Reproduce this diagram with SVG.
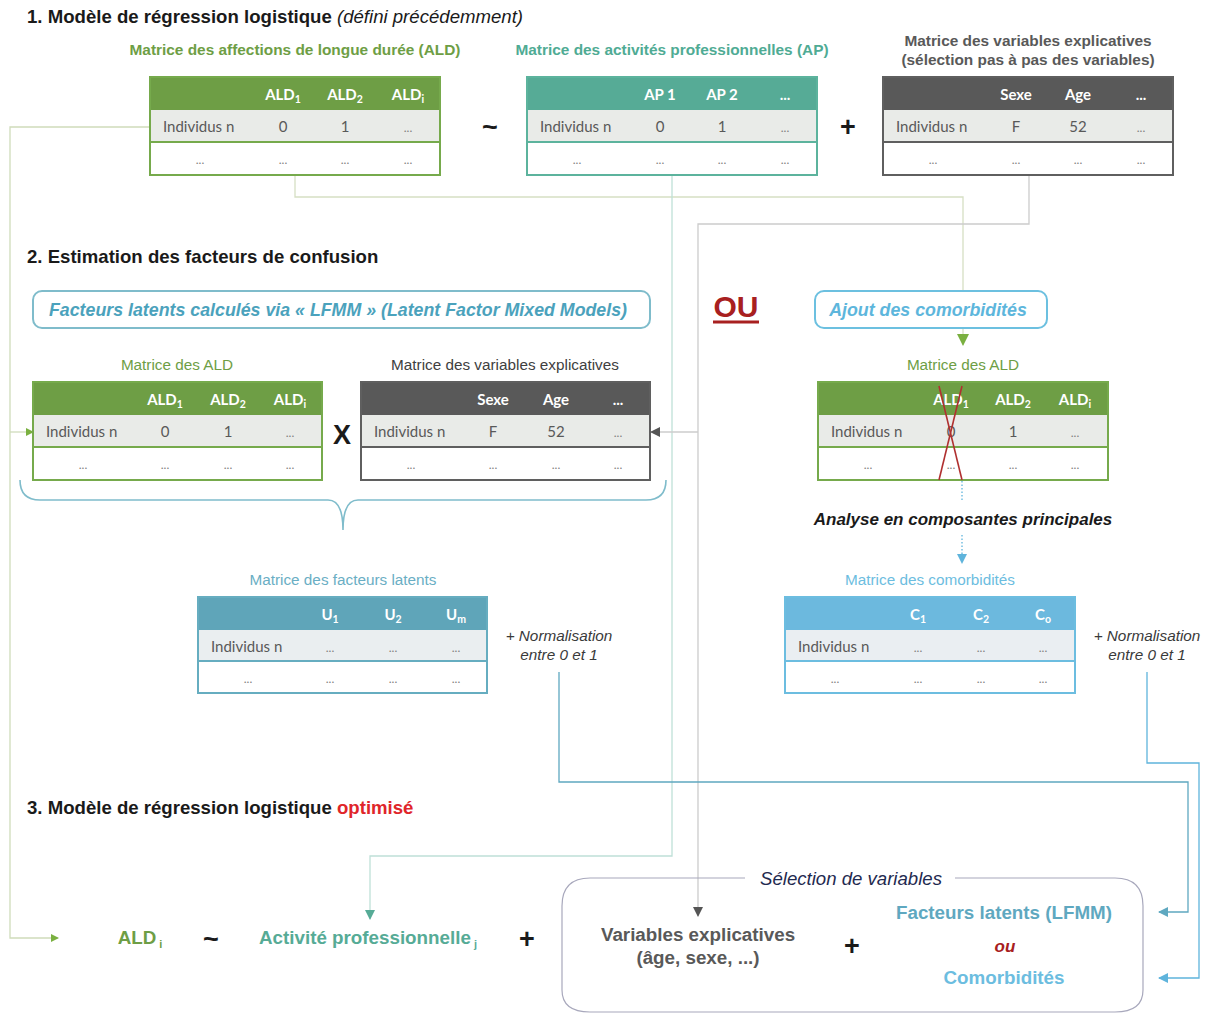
<svg xmlns="http://www.w3.org/2000/svg" width="1211" height="1014" viewBox="0 0 1211 1014">
<style>
.sec{font-family:"Liberation Sans",Arial,sans-serif;font-weight:bold;font-size:18.6px;fill:#1a1a1a}
.ttl{font-family:"Liberation Sans",Arial,sans-serif;font-weight:bold;font-size:15.4px;text-anchor:middle}
.lbl{font-family:"Liberation Sans",Arial,sans-serif;font-size:15.3px;text-anchor:middle}
.th{font-family:Lato,"Open Sans",sans-serif;font-weight:bold;font-size:15px;fill:#fff;text-anchor:middle}
.td{font-family:Lato,"Open Sans",sans-serif;font-size:15px;fill:#595959;text-anchor:middle}
.tl{font-family:Lato,"Open Sans",sans-serif;font-size:15px;fill:#595959}
.dots{font-family:Lato,"Open Sans",sans-serif;font-size:12px;fill:#7f7f7f;text-anchor:middle}
.sub{font-size:10.5px}
.r1{fill:#e9ebe8}
.op{font-family:"Liberation Sans",Arial,sans-serif;font-weight:bold;font-size:27px;fill:#1a1a1a;text-anchor:middle}
.norm{font-family:"Liberation Sans",Arial,sans-serif;font-style:italic;font-size:15.3px;fill:#3a3a3a;text-anchor:middle}
.big{font-family:"Liberation Sans",Arial,sans-serif;font-weight:bold;font-size:18.8px;text-anchor:middle}
.conn{fill:none;stroke-width:1.3}
</style>
<defs>
<marker id="aG" markerWidth="8" markerHeight="8" refX="7" refY="4" orient="auto" markerUnits="userSpaceOnUse"><path d="M0,0 L8,4 L0,8 Z" fill="#7ab040"/></marker>
<marker id="aT" markerWidth="10" markerHeight="10" refX="9" refY="5" orient="auto" markerUnits="userSpaceOnUse"><path d="M0,0 L10,5 L0,10 Z" fill="#56ab96"/></marker>
<marker id="aD" markerWidth="10" markerHeight="10" refX="9" refY="5" orient="auto" markerUnits="userSpaceOnUse"><path d="M0,0 L10,5 L0,10 Z" fill="#555"/></marker>
<marker id="aB" markerWidth="10" markerHeight="10" refX="9" refY="5" orient="auto" markerUnits="userSpaceOnUse"><path d="M0,0 L10,5 L0,10 Z" fill="#5fa8c0"/></marker>
<marker id="aL" markerWidth="10" markerHeight="10" refX="9" refY="5" orient="auto" markerUnits="userSpaceOnUse"><path d="M0,0 L10,5 L0,10 Z" fill="#5fb4dc"/></marker>
<marker id="aGb" markerWidth="12" markerHeight="12" refX="11" refY="6" orient="auto" markerUnits="userSpaceOnUse"><path d="M0,0 L12,6 L0,12 Z" fill="#7ab040"/></marker>
</defs>
<rect width="1211" height="1014" fill="#fff"/>

<!-- connectors -->
<g id="connectors">
<path class="conn" d="M150,127 H10 V938 H58" stroke="#cfdcbb" marker-end="url(#aG)"/>
<path class="conn" d="M10,432 H33" stroke="#cfdcbb" marker-end="url(#aG)"/>
<path class="conn" d="M295,175 V197 H963 V345" stroke="#d6dfc4" marker-end="url(#aGb)"/>
<path class="conn" d="M672,175 V856 H370 V919" stroke="#bfe0d8" marker-end="url(#aT)"/>
<path class="conn" d="M1029,175 V224 H698 V916" stroke="#cccccc" marker-end="url(#aD)"/>
<path class="conn" d="M698,432 H651" stroke="#cccccc" marker-end="url(#aD)"/>
<path class="conn" d="M962,481 V500" stroke="#5fb4dc" stroke-dasharray="1.5,2"/>
<path class="conn" d="M962,535 V563" stroke="#5fb4dc" stroke-dasharray="1.5,2" marker-end="url(#aL)"/>
<path class="conn" d="M559,672 V782 H1188 V912 H1159" stroke="#5fa8c0" stroke-width="1.6" marker-end="url(#aB)"/>
<path class="conn" d="M1147,672 V763 H1199 V978 H1159" stroke="#5fb4dc" stroke-width="1.6" marker-end="url(#aL)"/>
</g>

<!-- Section 1 -->
<text class="sec" x="27" y="23">1. Modèle de régression logistique <tspan font-weight="normal" font-style="italic">(défini précédemment)</tspan></text>

<g id="tab-ald">
<text class="ttl" x="295" y="55" fill="#6e9e45">Matrice des affections de longue durée (ALD)</text>
<g transform="translate(150,77)">
<rect width="290" height="33" fill="#6e9e45"/>
<rect y="33" width="290" height="32" class="r1"/>
<rect y="65" width="290" height="33" fill="#fff"/>
<line x1="0" y1="65" x2="290" y2="65" stroke="#76aa4c" stroke-width="2"/>
<rect width="290" height="98" fill="none" stroke="#76aa4c" stroke-width="2"/>
<text class="th" x="133" y="23">ALD<tspan class="sub" dy="3">1</tspan></text>
<text class="th" x="195" y="23">ALD<tspan class="sub" dy="3">2</tspan></text>
<text class="th" x="258" y="23">ALD<tspan class="sub" dy="3">i</tspan></text>
<text class="tl" x="13" y="55">Individus n</text>
<text class="td" x="133" y="55">0</text><text class="td" x="195" y="55">1</text><text class="dots" x="258" y="55">...</text>
<text class="dots" x="50" y="87">...</text><text class="dots" x="133" y="87">...</text><text class="dots" x="195" y="87">...</text><text class="dots" x="258" y="87">...</text>
</g>
</g>

<text class="op" x="490" y="136">~</text>

<g id="tab-ap">
<text class="ttl" x="672" y="55" fill="#4fab94">Matrice des activités professionnelles (AP)</text>
<g transform="translate(527,77)">
<rect width="290" height="33" fill="#56ab96"/>
<rect y="33" width="290" height="32" class="r1"/>
<rect y="65" width="290" height="33" fill="#fff"/>
<line x1="0" y1="65" x2="290" y2="65" stroke="#5cb39d" stroke-width="2"/>
<rect width="290" height="98" fill="none" stroke="#5cb39d" stroke-width="2"/>
<text class="th" x="133" y="23">AP 1</text>
<text class="th" x="195" y="23">AP 2</text>
<text class="th" x="258" y="23">...</text>
<text class="tl" x="13" y="55">Individus n</text>
<text class="td" x="133" y="55">0</text><text class="td" x="195" y="55">1</text><text class="dots" x="258" y="55">...</text>
<text class="dots" x="50" y="87">...</text><text class="dots" x="133" y="87">...</text><text class="dots" x="195" y="87">...</text><text class="dots" x="258" y="87">...</text>
</g>
</g>

<text class="op" x="848" y="136">+</text>

<g id="tab-var">
<text class="ttl" x="1028" y="46" fill="#595959">Matrice des variables explicatives</text>
<text class="ttl" x="1028" y="65" fill="#595959">(sélection pas à pas des variables)</text>
<g transform="translate(883,77)">
<rect width="290" height="33" fill="#595959"/>
<rect y="33" width="290" height="32" class="r1"/>
<rect y="65" width="290" height="33" fill="#fff"/>
<line x1="0" y1="65" x2="290" y2="65" stroke="#5f5f5f" stroke-width="2"/>
<rect width="290" height="98" fill="none" stroke="#5f5f5f" stroke-width="2"/>
<text class="th" x="133" y="23">Sexe</text>
<text class="th" x="195" y="23">Age</text>
<text class="th" x="258" y="23">...</text>
<text class="tl" x="13" y="55">Individus n</text>
<text class="td" x="133" y="55">F</text><text class="td" x="195" y="55">52</text><text class="dots" x="258" y="55">...</text>
<text class="dots" x="50" y="87">...</text><text class="dots" x="133" y="87">...</text><text class="dots" x="195" y="87">...</text><text class="dots" x="258" y="87">...</text>
</g>
</g>

<!-- Section 2 -->
<text class="sec" x="27" y="263">2. Estimation des facteurs de confusion</text>

<g id="box-lfmm">
<rect x="33" y="291" width="617" height="37" rx="9" fill="#fff" stroke="#7fbccb" stroke-width="2"/>
<text x="338" y="316" font-family="Liberation Sans, Arial, sans-serif" font-weight="bold" font-style="italic" font-size="17.8" fill="#4ba2bc" text-anchor="middle">Facteurs latents calculés via « LFMM » (Latent Factor Mixed Models)</text>
</g>

<g id="ou">
<text x="736" y="317" font-family="Liberation Sans, Arial, sans-serif" font-weight="bold" font-size="30" fill="#a82020" text-anchor="middle">OU</text>
<line x1="713" y1="322" x2="759" y2="322" stroke="#a82020" stroke-width="3"/>
</g>

<g id="box-ajout">
<rect x="815" y="291" width="232" height="37" rx="9" fill="#fff" stroke="#6cc0e0" stroke-width="2"/>
<text x="928" y="316" font-family="Liberation Sans, Arial, sans-serif" font-weight="bold" font-style="italic" font-size="17.8" fill="#5db6dc" text-anchor="middle">Ajout des comorbidités</text>
</g>

<g id="tab-ald2">
<text class="lbl" x="177" y="370" fill="#6e9e45">Matrice des ALD</text>
<g transform="translate(33,382)">
<rect width="289" height="33" fill="#6e9e45"/>
<rect y="33" width="289" height="32" class="r1"/>
<rect y="65" width="289" height="33" fill="#fff"/>
<line x1="0" y1="65" x2="289" y2="65" stroke="#76aa4c" stroke-width="2"/>
<rect width="289" height="98" fill="none" stroke="#76aa4c" stroke-width="2"/>
<text class="th" x="132" y="23">ALD<tspan class="sub" dy="3">1</tspan></text>
<text class="th" x="195" y="23">ALD<tspan class="sub" dy="3">2</tspan></text>
<text class="th" x="257" y="23">ALD<tspan class="sub" dy="3">i</tspan></text>
<text class="tl" x="13" y="55">Individus n</text>
<text class="td" x="132" y="55">0</text><text class="td" x="195" y="55">1</text><text class="dots" x="257" y="55">...</text>
<text class="dots" x="50" y="87">...</text><text class="dots" x="132" y="87">...</text><text class="dots" x="195" y="87">...</text><text class="dots" x="257" y="87">...</text>
</g>
</g>

<text class="op" x="342" y="444" font-size="22">X</text>

<g id="tab-var2">
<text class="lbl" x="505" y="370" fill="#404040">Matrice des variables explicatives</text>
<g transform="translate(361,382)">
<rect width="289" height="33" fill="#595959"/>
<rect y="33" width="289" height="32" class="r1"/>
<rect y="65" width="289" height="33" fill="#fff"/>
<line x1="0" y1="65" x2="289" y2="65" stroke="#5f5f5f" stroke-width="2"/>
<rect width="289" height="98" fill="none" stroke="#5f5f5f" stroke-width="2"/>
<text class="th" x="132" y="23">Sexe</text>
<text class="th" x="195" y="23">Age</text>
<text class="th" x="257" y="23">...</text>
<text class="tl" x="13" y="55">Individus n</text>
<text class="td" x="132" y="55">F</text><text class="td" x="195" y="55">52</text><text class="dots" x="257" y="55">...</text>
<text class="dots" x="50" y="87">...</text><text class="dots" x="132" y="87">...</text><text class="dots" x="195" y="87">...</text><text class="dots" x="257" y="87">...</text>
</g>
</g>

<path id="brace" d="M20,480 Q20,500 40,500 L328,500 Q343,500 343,530 Q343,500 358,500 L646,500 Q666,500 666,480" fill="none" stroke="#7fbccb" stroke-width="1.6"/>

<g id="tab-ald3">
<text class="lbl" x="963" y="370" fill="#6e9e45">Matrice des ALD</text>
<g transform="translate(818,382)">
<rect width="290" height="33" fill="#6e9e45"/>
<rect y="33" width="290" height="32" class="r1"/>
<rect y="65" width="290" height="33" fill="#fff"/>
<line x1="0" y1="65" x2="290" y2="65" stroke="#76aa4c" stroke-width="2"/>
<rect width="290" height="98" fill="none" stroke="#76aa4c" stroke-width="2"/>
<text class="th" x="133" y="23">ALD<tspan class="sub" dy="3">1</tspan></text>
<text class="th" x="195" y="23">ALD<tspan class="sub" dy="3">2</tspan></text>
<text class="th" x="257" y="23">ALD<tspan class="sub" dy="3">i</tspan></text>
<text class="tl" x="13" y="55">Individus n</text>
<text class="td" x="133" y="55">0</text><text class="td" x="195" y="55">1</text><text class="dots" x="257" y="55">...</text>
<text class="dots" x="50" y="87">...</text><text class="dots" x="133" y="87">...</text><text class="dots" x="195" y="87">...</text><text class="dots" x="257" y="87">...</text>
</g>
<line x1="939" y1="386" x2="962" y2="480" stroke="#b03030" stroke-width="1.6"/>
<line x1="962" y1="386" x2="939" y2="480" stroke="#b03030" stroke-width="1.6"/>
</g>

<text x="963" y="525" font-family="Liberation Sans, Arial, sans-serif" font-weight="bold" font-style="italic" font-size="17" fill="#1a1a1a" text-anchor="middle">Analyse en composantes principales</text>

<g id="tab-lat">
<text class="lbl" x="343" y="585" fill="#6aaec4">Matrice des facteurs latents</text>
<g transform="translate(198,597)">
<rect width="289" height="33" fill="#5fa5b9"/>
<rect y="33" width="289" height="31" fill="#eaeef0"/>
<rect y="64" width="289" height="32" fill="#fff"/>
<line x1="0" y1="64" x2="289" y2="64" stroke="#66adc0" stroke-width="2"/>
<rect width="289" height="96" fill="none" stroke="#66adc0" stroke-width="2"/>
<text class="th" x="132" y="23">U<tspan class="sub" dy="3">1</tspan></text>
<text class="th" x="195" y="23">U<tspan class="sub" dy="3">2</tspan></text>
<text class="th" x="258" y="23">U<tspan class="sub" dy="3">m</tspan></text>
<text class="tl" x="13" y="55">Individus n</text>
<text class="dots" x="132" y="55">...</text><text class="dots" x="195" y="55">...</text><text class="dots" x="258" y="55">...</text>
<text class="dots" x="50" y="86">...</text><text class="dots" x="132" y="86">...</text><text class="dots" x="195" y="86">...</text><text class="dots" x="258" y="86">...</text>
</g>
<text class="norm" x="559" y="641">+ Normalisation</text>
<text class="norm" x="559" y="660">entre 0 et 1</text>
</g>

<g id="tab-com">
<text class="lbl" x="930" y="585" fill="#6cbde0">Matrice des comorbidités</text>
<g transform="translate(785,597)">
<rect width="290" height="33" fill="#6cb9de"/>
<rect y="33" width="290" height="31" fill="#eaeef2"/>
<rect y="64" width="290" height="32" fill="#fff"/>
<line x1="0" y1="64" x2="290" y2="64" stroke="#6cbde0" stroke-width="2"/>
<rect width="290" height="96" fill="none" stroke="#6cbde0" stroke-width="2"/>
<text class="th" x="133" y="23">C<tspan class="sub" dy="3">1</tspan></text>
<text class="th" x="196" y="23">C<tspan class="sub" dy="3">2</tspan></text>
<text class="th" x="258" y="23">C<tspan class="sub" dy="3">o</tspan></text>
<text class="tl" x="13" y="55">Individus n</text>
<text class="dots" x="133" y="55">...</text><text class="dots" x="196" y="55">...</text><text class="dots" x="258" y="55">...</text>
<text class="dots" x="50" y="86">...</text><text class="dots" x="133" y="86">...</text><text class="dots" x="196" y="86">...</text><text class="dots" x="258" y="86">...</text>
</g>
<text class="norm" x="1147" y="641">+ Normalisation</text>
<text class="norm" x="1147" y="660">entre 0 et 1</text>
</g>

<!-- Section 3 -->
<text class="sec" x="27" y="814">3. Modèle de régression logistique <tspan fill="#e0252a">optimisé</tspan></text>

<g id="formula">
<text class="big" x="140" y="944" fill="#6e9e45">ALD<tspan font-size="11" dy="4"> i</tspan></text>
<text class="op" x="211" y="948">~</text>
<text class="big" x="368" y="944" fill="#56ab96">Activité professionnelle<tspan font-size="11" dy="4"> j</tspan></text>
<text class="op" x="527" y="948">+</text>
</g>

<g id="selection">
<path d="M745,878 H590 Q562,878 562,906 V990 Q562,1012 590,1012 H1115 Q1143,1012 1143,990 V906 Q1143,878 1115,878 H955" fill="none" stroke="#a8a8bc" stroke-width="1.2"/>
<text x="851" y="885" font-family="Liberation Sans, Arial, sans-serif" font-style="italic" font-size="18.6" fill="#1f2a50" text-anchor="middle">Sélection de variables</text>
<text class="big" x="698" y="941" fill="#595959">Variables explicatives</text>
<text class="big" x="698" y="964" fill="#595959">(âge, sexe, ...)</text>
<text class="op" x="852" y="955">+</text>
<text class="big" x="1004" y="919" fill="#5fa8c0">Facteurs latents (LFMM)</text>
<text x="1005" y="952" font-family="Liberation Sans, Arial, sans-serif" font-weight="bold" font-style="italic" font-size="17" fill="#a82020" text-anchor="middle">ou</text>
<text class="big" x="1004" y="984" fill="#6cbde0">Comorbidités</text>
</g>
</svg>
